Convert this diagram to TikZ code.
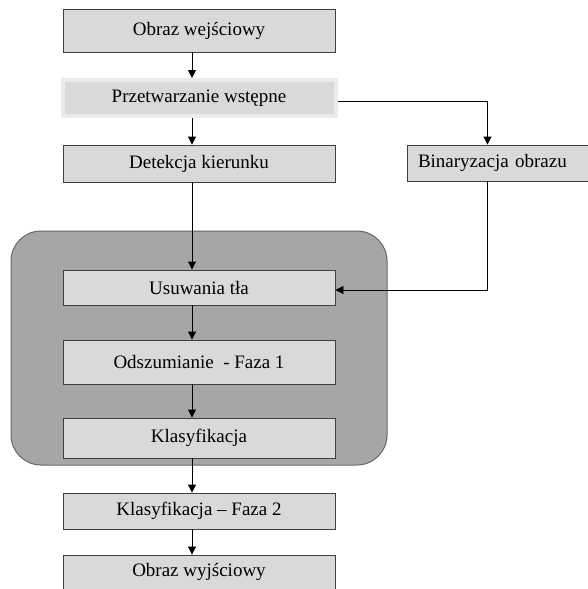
\documentclass[tikz,border=0pt]{standalone}
\usepackage{fontspec}
\setmainfont{Liberation Serif}
\usetikzlibrary{positioning,arrows.meta}

\definecolor{boxgray}{HTML}{D9D9D9}
\definecolor{groupgray}{HTML}{A6A6A6}
\definecolor{edgegray}{HTML}{404040}

\begin{document}
\begin{tikzpicture}[x=1pt,y=-1pt,
    block/.style={rectangle, draw=edgegray, fill=boxgray, line width=0.9pt, minimum width=272pt, inner sep=0pt, font=\fontsize{19}{22}\selectfont},
    preblock/.style={block, draw=black!8, line width=4pt, minimum width=273pt},
    group/.style={rectangle, draw=edgegray!80, fill=groupgray, rounded corners=30pt, line width=1pt, minimum width=376pt, minimum height=234pt},
    arrow/.style={-{Triangle[length=8pt,width=8pt]}, line width=0.9pt}
]
\useasboundingbox (0,0) rectangle (588,589);

\node[group] (grp) at (199,348) {};

\node[block, minimum height=43pt] (in) at (199,30.5) {Obraz wejściowy};
\node[preblock, minimum height=36pt] (pre) at (199,98) {Przetwarzanie wstępne};
\node[block, minimum height=37pt] (det) at (199,163.5) {Detekcja kierunku};
\node[block, minimum width=181pt, minimum height=36pt, text width=159pt, inner xsep=11pt, align=left] (bin) at (497.5,163) {Binaryzacja obrazu};
\node[block, minimum height=35pt] (us) at (199,287.5) {Usuwania tła};
\node[block, minimum height=44pt] (odsz) at (199,362) {Odszumianie \ - Faza 1};
\node[block, minimum height=40pt] (kl) at (199,438) {Klasyfikacja};
\node[block, minimum height=36pt] (kl2) at (199,511) {Klasyfikacja -- Faza 2};
\node[block, minimum height=34pt] (out) at (199,572) {Obraz wyjściowy};

\draw[arrow] ([xshift=-7pt]in.south) -- ([xshift=-7pt]pre.north);
\draw[arrow] ([xshift=-7pt]pre.south) -- ([xshift=-7pt]det.north);
\draw[arrow] ([xshift=-7pt]det.south) -- ([xshift=-7pt]us.north);
\draw[arrow] ([xshift=-7pt]us.south) -- ([xshift=-7pt]odsz.north);
\draw[arrow] ([xshift=-7pt]odsz.south) -- ([xshift=-7pt]kl.north);
\draw[arrow] ([xshift=-7pt]kl.south) -- ([xshift=-7pt]kl2.north);
\draw[arrow] ([xshift=-7pt]kl2.south) -- ([xshift=-7pt]out.north);
\draw[arrow] ([yshift=-3pt]pre.east) -| ([xshift=-10pt]bin.north);
\draw[arrow] ([xshift=-10pt]bin.south) |- ([yshift=-2.5pt]us.east);

\end{tikzpicture}
\end{document}
